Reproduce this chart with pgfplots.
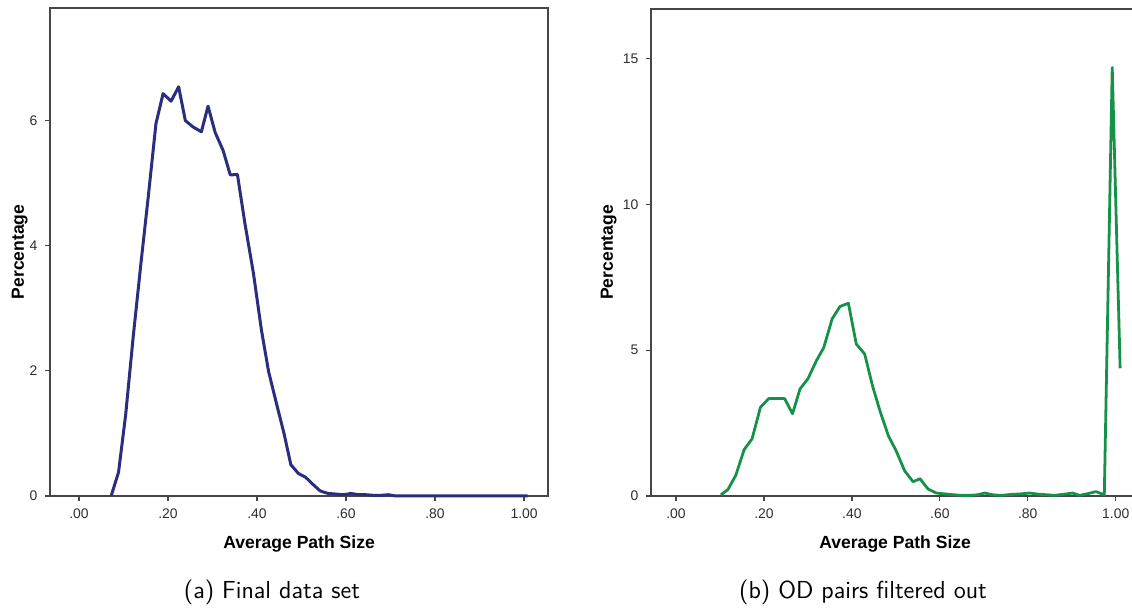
\documentclass[border=0pt]{standalone}
\usepackage{pgfplots}
\pgfplotsset{compat=1.18}
\usepackage{fontspec}
\newfontfamily\arial{Liberation Sans}
\definecolor{navyline}{RGB}{43,45,125}
\definecolor{greenline}{RGB}{22,145,72}
\definecolor{framegray}{RGB}{70,70,70}
\definecolor{ticktext}{RGB}{45,45,45}

\pgfplotsset{
  spssaxis/.style={
    scale only axis,
    axis line style={framegray,line width=0.7pt},
    tick style={framegray,line width=0.6pt},
    major tick length=2.4pt,
    tick align=outside,
    xtick pos=bottom, ytick pos=left,
    ymin=0,
    tick label style={font=\arial\fontsize{6.5}{7}\selectfont,text=ticktext},
    xtick={0,0.2,0.4,0.6,0.8,1},
    xticklabels={.00,.20,.40,.60,.80,1.00},
    xlabel={Average Path Size},
    ylabel={Percentage},
    label style={font=\arial\bfseries\fontsize{8.2}{9}\selectfont},
    clip=false,
  }
}

\begin{document}
\begin{tikzpicture}
\useasboundingbox (0,0) rectangle (528.6pt,283.9pt);

% (a) final data set
\begin{axis}[spssaxis,
    at={(23.35pt,52.3pt)}, anchor=south west,
    width=232.6pt, height=227.9pt,
    xmin=-0.065, xmax=1.054, ymax=7.8,
    ytick={0,2,4,6}, yticklabels={0,2,4,6},
    xlabel style={yshift=-1pt},
    ylabel style={yshift=-6pt},
  ]
  \addplot [navyline,line width=1.4pt,line join=round] coordinates {
    (0.0724,0) (0.089,0.38) (0.105,1.30) (0.122,2.55) (0.139,3.70) (0.156,4.80)
    (0.173,5.95) (0.189,6.43) (0.207,6.31) (0.224,6.54) (0.239,6.00) (0.256,5.90)
    (0.275,5.82) (0.290,6.23) (0.306,5.81) (0.324,5.52) (0.340,5.13) (0.356,5.14)
    (0.373,4.35) (0.392,3.56) (0.410,2.65) (0.426,1.99) (0.444,1.47) (0.461,0.99)
    (0.476,0.50) (0.493,0.36) (0.509,0.30) (0.525,0.19) (0.542,0.08) (0.560,0.04)
    (0.578,0.03) (0.595,0.02) (0.611,0.04) (0.628,0.02) (0.645,0.02) (0.662,0.01)
    (0.678,0.01) (0.695,0.02) (0.712,0.0) (0.80,0.0) (0.90,0.0) (1.008,0.0)
  };
\end{axis}

% (b) OD pairs filtered out (right border falls outside the picture)
\begin{axis}[spssaxis,
    at={(304.0pt,52.3pt)}, anchor=south west,
    width=232pt, height=227.4pt,
    xmin=-0.0568, xmax=1.073, ymax=16.7,
    ytick={0,5,10,15}, yticklabels={0,5,10,15},
    xlabel style={yshift=-1pt,xshift=-2pt},
    ylabel style={yshift=-4pt},
  ]
  \addplot [greenline,line width=1.3pt,line join=round] coordinates {
    (0.102,0.04) (0.118,0.22) (0.136,0.71) (0.155,1.59) (0.173,1.96) (0.192,3.04)
    (0.211,3.34) (0.229,3.34) (0.247,3.34) (0.265,2.82) (0.282,3.67) (0.300,4.02)
    (0.319,4.63) (0.336,5.09) (0.355,6.07) (0.373,6.50) (0.392,6.61) (0.410,5.21)
    (0.429,4.87) (0.447,3.77) (0.464,2.91) (0.483,2.06) (0.500,1.57) (0.520,0.86)
    (0.539,0.49) (0.555,0.59) (0.573,0.24) (0.592,0.10) (0.612,0.07) (0.633,0.04)
    (0.650,0.02) (0.668,0.02) (0.685,0.04) (0.702,0.10) (0.720,0.04) (0.739,0.02)
    (0.760,0.05) (0.782,0.07) (0.804,0.10) (0.825,0.06) (0.845,0.04) (0.861,0.02)
    (0.882,0.06) (0.902,0.10) (0.918,0.02) (0.937,0.08) (0.955,0.15) (0.974,0.04)
    (0.992,14.69) (1.010,4.38)
  };
\end{axis}

\node[font=\sffamily\fontsize{11.5}{13}\selectfont] at (127.0pt,7.5pt) {(a)~Final data set};
\node[font=\sffamily\fontsize{11.5}{13}\selectfont] at (403.0pt,7.5pt) {(b)~OD pairs filtered out};
\end{tikzpicture}
\end{document}
